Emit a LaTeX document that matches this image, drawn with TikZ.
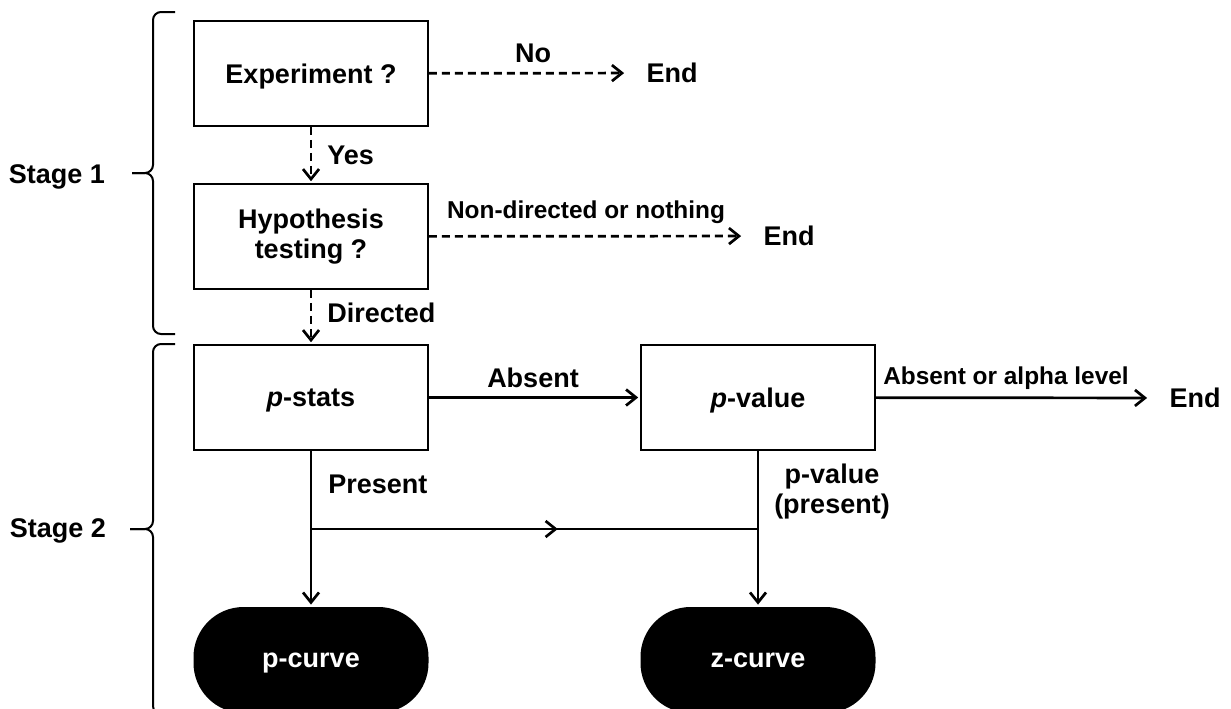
\documentclass[tikz,border=0pt]{standalone}
\usepackage{fontspec}
\setmainfont{Liberation Sans}
\usetikzlibrary{arrows.meta, positioning, decorations.markings}

\begin{document}
\begin{tikzpicture}[x=0.5pt, y=-0.5pt,
        font=\fontsize{13.5}{15}\selectfont\bfseries,
        box/.style={draw, line width=0.8pt, minimum width=117pt, minimum height=52.5pt, align=center, inner sep=0pt},
        onebox/.style={box, text depth=0pt},
        term/.style={fill=black, text=white, rounded corners=25pt, minimum width=117.5pt, minimum height=53pt, inner sep=0pt, text depth=0pt},
        flow/.style={line width=1.35pt, shorten >=1pt, -{Straight Barb[length=5pt,width=8pt]}},
        dflow/.style={flow, dash pattern=on 4pt off 2.5pt},
        lbl/.style={inner sep=0pt, align=center},
        small/.style={font=\fontsize{12.2}{15}\selectfont\bfseries},
        endlbl/.style={inner xsep=10pt, inner ysep=0pt},
        bracket/.style={line width=1pt, rounded corners=4pt}]
    \useasboundingbox (0,0) rectangle (1231,708);

    % stage 1
    \node[onebox] (exp) at (311,73.5) {Experiment ?};
    \node[box] (hyp) at (311,236.5) {Hypothesis\\testing ?};
    \node[endlbl] (end1) at (672,73) {End};
    \node[endlbl] (end2) at (789,236) {End};

    % stage 2
    \node[onebox] (pstats) at (311,397.5) {\textit{p}-stats};
    \node[onebox] (pval) at (758,397.5) {\textit{p}-value};
    \node[endlbl] (end3) at (1195,398) {End};
    \node[term] (pcurve) at (311,660) {p-curve};
    \node[term] (zcurve) at (758,660) {z-curve};
    \coordinate (jl) at (311,529);
    \coordinate (jr) at (758,529);

    % connectors
    \draw[dflow] (exp) -- (end1);
    \draw[dflow] (exp) -- (hyp);
    \draw[dflow] (hyp) -- (end2);
    \draw[dflow] (hyp) -- (pstats);
    \draw[flow] (pstats) -- (pval);
    \draw[flow] (pval) -- (end3);
    \draw[flow] (pstats) -- (pcurve);
    \draw[flow] (pval) -- (zcurve);
    \draw[line width=1.35pt, postaction=decorate, decoration={markings,
        mark=at position 0.552 with {\arrow{Straight Barb[length=5pt,width=8pt]}}}] (jl) -- (jr);

    % labels
    \node[lbl, anchor=base] (no) at (533,62) {No};
    \node[lbl, anchor=base west] (yes) at (327,164) {Yes};
    \node[lbl, small, anchor=base] (nondir) at (586,218) {Non-directed or nothing};
    \node[lbl, anchor=base west] (dir) at (327,322) {Directed};
    \node[lbl, anchor=base] (absent) at (533,387) {Absent};
    \node[lbl, small, anchor=base] (alpha) at (1006,384) {Absent or alpha level};
    \node[lbl, anchor=base west] (present) at (328,493) {Present};
    \node[lbl] (pvpres) at (832,491.5) {p-value\\(present)};

    % brackets
    \node[lbl, anchor=base] (stage1) at (57,183) {Stage 1};
    \node[lbl, anchor=base] (stage2) at (58,537) {Stage 2};
    \draw[bracket] (175,12) -- (153,12) -- (153,173) -- (132,173);
    \draw[bracket] (175,334) -- (153,334) -- (153,173) -- (132,173);
    \draw[bracket] (175,344) -- (153,344) -- (153,529) -- (130,529);
    \draw[bracket] (175,714) -- (153,714) -- (153,529) -- (130,529);
\end{tikzpicture}
\end{document}
